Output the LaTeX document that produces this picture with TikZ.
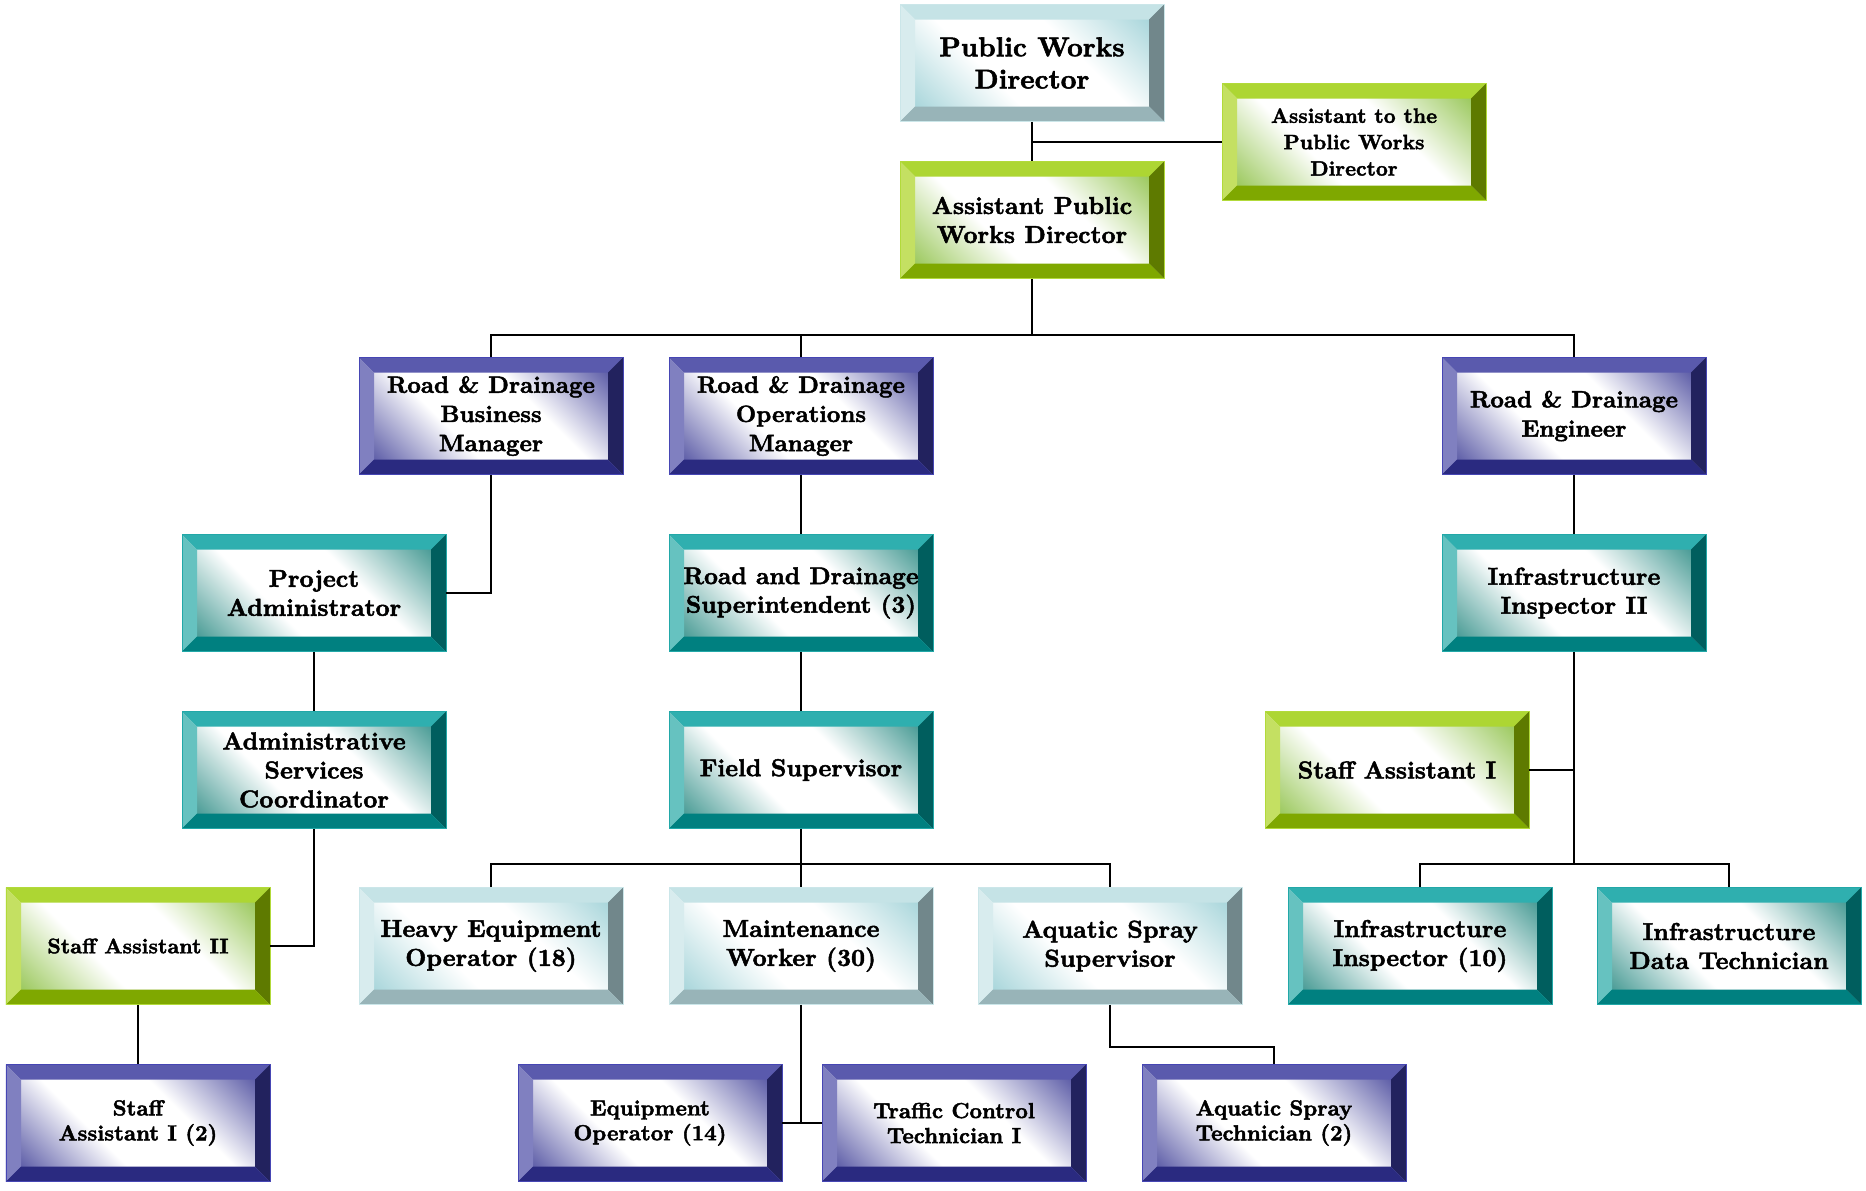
\documentclass[tikz,border=0pt]{standalone}
\usepackage{fontspec}
\setmainfont{lmroman10-regular.otf}[BoldFont=lmroman10-bold.otf, BoldFeatures={FakeBold=2}]
\usepackage{tikz}
\usetikzlibrary{calc}

% bevel colours: top, left, right, bottom, face, outline
\definecolor{icetop}{HTML}{C5E3E6}
\definecolor{iceleft}{HTML}{D8ECEE}
\definecolor{iceright}{HTML}{71878B}
\definecolor{icebot}{HTML}{98B4B8}
\definecolor{iceface}{HTML}{A9D6DB}
\definecolor{iceline}{HTML}{CBE6E9}
\definecolor{limetop}{HTML}{ADD633}
\definecolor{limeleft}{HTML}{C4E062}
\definecolor{limeright}{HTML}{5E7A00}
\definecolor{limebot}{HTML}{7FA800}
\definecolor{limeface}{HTML}{9CC95E}
\definecolor{limeline}{HTML}{B2DA3A}
\definecolor{navytop}{HTML}{5A5AAD}
\definecolor{navyleft}{HTML}{8080C0}
\definecolor{navyright}{HTML}{22225E}
\definecolor{navybot}{HTML}{2A2A80}
\definecolor{navyface}{HTML}{5E5EA8}
\definecolor{navyline}{HTML}{4646B4}
\definecolor{tealtop}{HTML}{2FAFAF}
\definecolor{tealleft}{HTML}{66C2C0}
\definecolor{tealright}{HTML}{005E5E}
\definecolor{tealbot}{HTML}{008080}
\definecolor{tealface}{HTML}{4A9C96}
\definecolor{tealline}{HTML}{22A8A8}

% face of a box: coloured corners, white band across the middle
\colorlet{facecol}{white}
\pgfdeclareverticalshading[facecol]{face}{100bp}{%
  color(0bp)=(facecol); color(20bp)=(facecol); color(40bp)=(white);
  color(60bp)=(white); color(80bp)=(facecol); color(100bp)=(facecol)}

\def\bw{0.3}

\tikzset{
  bevel/.style={
    rectangle, minimum width=5.28cm, minimum height=2.34cm, inner sep=1pt,
    align=center, draw=#1line, line width=0.5pt,
    font=\fontsize{13.9}{16.5}\selectfont\bfseries,
    path picture={
      \path (path picture bounding box.north west) coordinate (nw)
            (path picture bounding box.north east) coordinate (ne)
            (path picture bounding box.south west) coordinate (sw)
            (path picture bounding box.south east) coordinate (se);
      \colorlet{facecol}{#1face}
      \shade[shading=face, shading angle=-45] (nw) rectangle (se);
      \fill[#1top] (nw) -- (ne) -- ([shift={(-\bw,-\bw)}]ne) -- ([shift={(\bw,-\bw)}]nw) -- cycle;
      \fill[#1left] (nw) -- ([shift={(\bw,-\bw)}]nw) -- ([shift={(\bw,\bw)}]sw) -- (sw) -- cycle;
      \fill[#1right] (ne) -- (se) -- ([shift={(-\bw,\bw)}]se) -- ([shift={(-\bw,-\bw)}]ne) -- cycle;
      \fill[#1bot] (sw) -- ([shift={(\bw,\bw)}]sw) -- ([shift={(-\bw,\bw)}]se) -- (se) -- cycle;
    }
  },
  ftop/.style={font=\fontsize{15.5}{18.3}\selectfont\bfseries},
  fmgr/.style={font=\fontsize{13.4}{16.6}\selectfont\bfseries},
  frow/.style={font=\fontsize{12.4}{14.2}\selectfont\bfseries},
  fsmall/.style={font=\fontsize{11.8}{15}\selectfont\bfseries},
  wire/.style={line width=1.1pt}
}

\begin{document}
\begin{tikzpicture}
  \useasboundingbox (0,0) rectangle (37.32,-23.8);

  % top of the tree
  \node[bevel=ice, ftop] (pwd) at (20.64,-1.26) {Public Works\\Director};
  \node[bevel=lime] (apwd) at (20.64,-4.40) {Assistant Public\\Works Director};
  \node[bevel=lime, fsmall] (asst) at (27.08,-2.84) {Assistant to the\\Public Works\\Director};

  % managers
  \node[bevel=navy, fmgr] (bm) at (9.82,-8.32) {Road \& Drainage\\Business\\Manager};
  \node[bevel=navy, fmgr] (om) at (16.02,-8.32) {Road \& Drainage\\Operations\\Manager};
  \node[bevel=navy, fmgr] (eng) at (31.48,-8.32) {Road \& Drainage\\Engineer};

  \node[bevel=teal] (pa) at (6.28,-11.86) {Project\\Administrator};
  \node[bevel=teal, font=\fontsize{13.7}{16.3}\selectfont\bfseries] (sup) at (16.02,-11.86) {Road and Drainage\\Superintendent (3)};
  \node[bevel=teal] (ii2) at (31.48,-11.86) {Infrastructure\\Inspector II};

  \node[bevel=teal] (asc) at (6.28,-15.40) {Administrative\\Services\\Coordinator};
  \node[bevel=teal] (fs) at (16.02,-15.40) {Field Supervisor};
  \node[bevel=lime] (sa1) at (27.94,-15.40) {Staff Assistant I};

  % staff
  \node[bevel=lime, font=\fontsize{12}{14.5}\selectfont\bfseries] (sa2) at (2.76,-18.92) {Staff Assistant II};
  \node[bevel=ice] (heo) at (9.82,-18.92) {Heavy Equipment\\Operator (18)};
  \node[bevel=ice] (mw) at (16.02,-18.92) {Maintenance\\Worker (30)};
  \node[bevel=ice] (aqs) at (22.20,-18.92) {Aquatic Spray\\Supervisor};
  \node[bevel=teal] (ii10) at (28.40,-18.92) {Infrastructure\\Inspector (10)};
  \node[bevel=teal] (idt) at (34.58,-18.92) {Infrastructure\\Data Technician};

  \node[bevel=navy, frow] (sa1b) at (2.76,-22.46) {Staff\\Assistant I (2)};
  \node[bevel=navy, frow] (eo) at (13.00,-22.46) {Equipment\\Operator (14)};
  \node[bevel=navy, frow] (tct) at (19.08,-22.46) {Traffic Control\\Technician I};
  \node[bevel=navy, frow] (aqt) at (25.48,-22.46) {Aquatic Spray\\Technician (2)};

  % lines
  \draw[wire] (pwd) -- (apwd);
  \draw[wire] (asst.west) -- (asst.west -| pwd.south);
  \draw[wire] (apwd.south) -- ++(0,-1.12) coordinate (bus1);
  \draw[wire] (bm.north) |- (bus1) -| (eng.north);
  \draw[wire] (om.north) -- (om.north |- bus1);

  \draw[wire] (bm.south) |- (pa.east);
  \draw[wire] (om) -- (sup);
  \draw[wire] (sup) -- (fs);
  \draw[wire] (eng) -- (ii2);
  \draw[wire] (pa) -- (asc);
  \draw[wire] (asc.south) |- (sa2.east);
  \draw[wire] (sa2) -- (sa1b);

  \draw[wire] (fs) -- (mw);
  \draw[wire] (fs.south) -- ++(0,-0.71) coordinate (bus2);
  \draw[wire] (heo.north) |- (bus2) -| (aqs.north);

  \draw[wire] (ii2.south) -- ++(0,-4.25) coordinate (bus3);
  \draw[wire] (ii10.north) |- (bus3) -| (idt.north);
  \draw[wire] (sa1.east) -- (sa1.east -| ii2.south);

  \draw[wire] (mw.south) -- (mw.south |- eo.east);
  \draw[wire] (eo.east) -- (tct.west);
  \draw[wire] (aqs.south) -- ++(0,-0.85) -| (aqt.north);
\end{tikzpicture}
\end{document}
